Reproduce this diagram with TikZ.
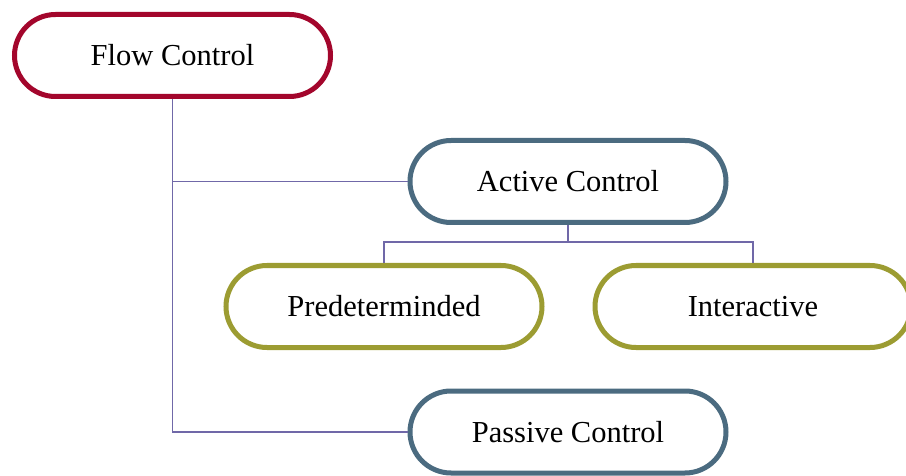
\documentclass[tikz,border=0pt]{standalone}
\usepackage{fontspec}
\setmainfont{Liberation Serif}
\definecolor{rootred}{HTML}{A3062C}
\definecolor{midteal}{HTML}{4B6B80}
\definecolor{leafolive}{HTML}{9C9C32}
\definecolor{linkpurple}{HTML}{7068A8}
\tikzset{
  pill/.style={draw, line width=5pt, fill=white, rounded corners=41pt,
    minimum width=316pt, minimum height=82pt, inner sep=0pt,
    font=\fontsize{30.5}{36}\selectfont},
  rootpill/.style={pill, draw=rootred},
  midpill/.style={pill, draw=midteal},
  leafpill/.style={pill, draw=leafolive},
  conn/.style={draw=linkpurple, line width=1.5pt}
}
\begin{document}
\begin{tikzpicture}[x=1pt,y=-1pt]
  \useasboundingbox (0,0) rectangle (906,476);
  \clip (0,0) rectangle (906,476);
  \node[rootpill] (flow) at (172.5,55.5) {Flow Control};
  \node[midpill] (active) at (568,181.5) {Active Control};
  \node[leafpill] (pred) at (384,306.5) {Predeterminded};
  \node[leafpill] (inter) at (753,306.5) {Interactive};
  \node[midpill] (passive) at (568,432) {Passive Control};
  % branching point below the active-control pill
  \coordinate (split) at (568,242);
  \draw[conn] (flow.south) |- (passive.west);
  \draw[conn] (flow.south |- active.west) -- (active.west);
  \draw[conn] (active.south) -- (split);
  \draw[conn] (split) -| (pred.north);
  \draw[conn] (split) -| (inter.north);
\end{tikzpicture}
\end{document}
